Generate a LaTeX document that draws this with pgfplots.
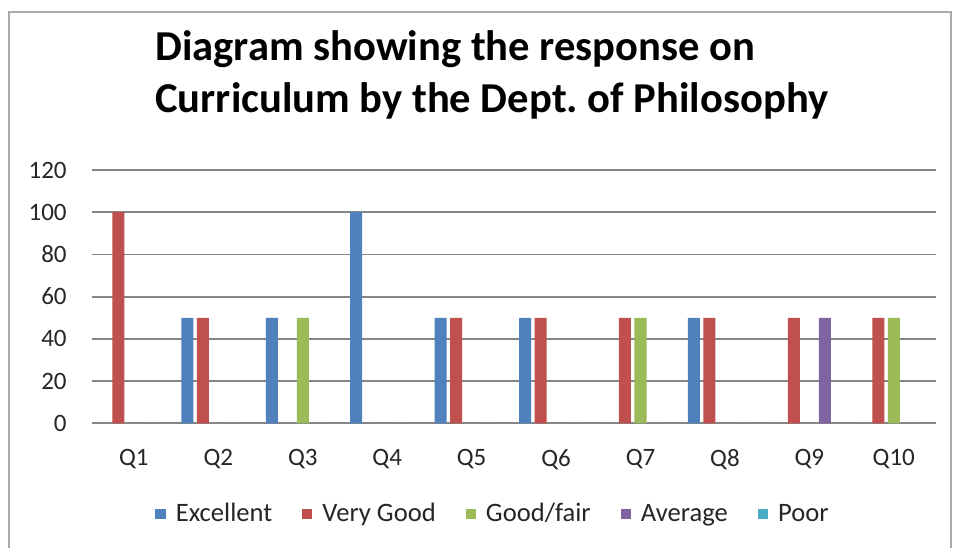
\documentclass[border=0pt]{standalone}
\usepackage{pgfplots}
\pgfplotsset{compat=1.18}
\usepackage{fontspec}
\setmainfont{Carlito}
\frenchspacing
\definecolor{cExc}{HTML}{4F81BD}
\definecolor{cVG}{HTML}{C0504D}
\definecolor{cGood}{HTML}{9BBB59}
\definecolor{cAvg}{HTML}{8064A2}
\definecolor{cPoor}{HTML}{4BACC6}
\definecolor{gridc}{RGB}{134,134,134}
\definecolor{framec}{RGB}{170,170,170}
\begin{document}
\begin{tikzpicture}
\fill[white] (0,0) rectangle (476.5pt,274pt);
\draw[framec, line width=1pt] (4.5pt,0) -- (4.5pt,268pt) -- (475.5pt,268pt) -- (475.5pt,0);
\node[anchor=base west, inner sep=0pt, font=\fontsize{21.3}{25}\selectfont\bfseries] at (77.5pt,243.5pt) {Diagram showing the response on};
\node[anchor=base west, inner sep=0pt, font=\fontsize{21.3}{25}\selectfont\bfseries] at (77.5pt,217.5pt) {Curriculum by the Dept. of Philosophy};
\begin{axis}[
  at={(45.85pt,62.35pt)}, anchor=south west,
  width=422.15pt, height=126.65pt, scale only axis,
  ybar=1.75pt, bar width=6pt,
  xmin=0.5, xmax=10.5, ymin=0, ymax=120,
  xtick={1,2,3,4,5,6,7,8,9,10},
  xticklabels={Q1,Q2,Q3,Q4,Q5,Q6,Q7,Q8,Q9,Q10},
  ytick={0,20,40,60,80,100,120},
  major tick length=0pt,
  axis line style={draw=none},
  ymajorgrids, grid style={gridc, line width=0.9pt},
  /pgf/number format/assume math mode=true,
  ticklabel style={font=\fontsize{12.5}{15}\selectfont, text=black!85, inner sep=0pt},
  xticklabel style={anchor=north, yshift=-13pt},
  yticklabel style={anchor=east, xshift=-12.35pt},
  legend columns=5,
  legend style={at={(0.4765,-0.3585)}, anchor=center, draw=none, fill=none,
    font=\fontsize{13.3}{15}\selectfont, text=black!85,
    /tikz/every odd column/.append style={column sep=3pt},
    /tikz/every even column/.append style={column sep=12.9pt},
    cells={anchor=west}},
  legend image code/.code={\fill[#1] (0pt,-2.6pt) rectangle (5.2pt,2.6pt);},
  clip=false,
]
\addplot[fill=cExc, draw=none] coordinates {(1,0) (2,50) (3,50) (4,100) (5,50) (6,50) (7,0) (8,50) (9,0) (10,0)};
\addplot[fill=cVG, draw=none] coordinates {(1,100) (2,50) (3,0) (4,0) (5,50) (6,50) (7,50) (8,50) (9,50) (10,50)};
\addplot[fill=cGood, draw=none] coordinates {(1,0) (2,0) (3,50) (4,0) (5,0) (6,0) (7,50) (8,0) (9,0) (10,50)};
\addplot[fill=cAvg, draw=none] coordinates {(1,0) (2,0) (3,0) (4,0) (5,0) (6,0) (7,0) (8,0) (9,50) (10,0)};
\addplot[fill=cPoor, draw=none] coordinates {(1,0) (2,0) (3,0) (4,0) (5,0) (6,0) (7,0) (8,0) (9,0) (10,0)};
\legend{Excellent, Very Good, Good/fair, Average, Poor}
\end{axis}
\end{tikzpicture}
\end{document}
